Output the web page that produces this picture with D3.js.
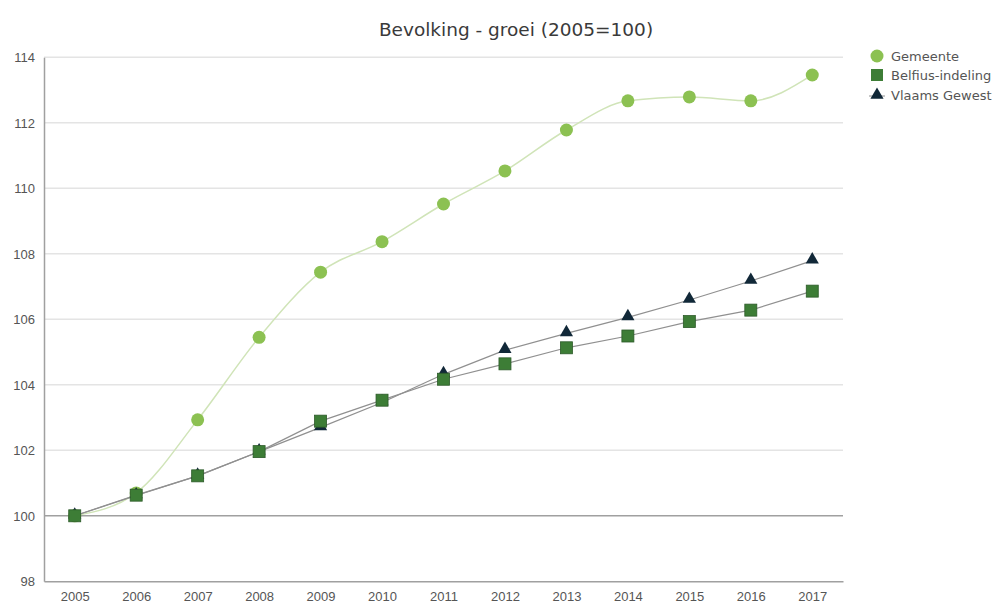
<!DOCTYPE html>
<html>
<head>
<meta charset="utf-8">
<script src="https://cdn.jsdelivr.net/npm/d3@7"></script>
<style>
  body { margin: 0; background: #fff; }
  svg { display: block; font-family: "DejaVu Sans", Verdana, sans-serif; }
</style>
</head>
<body>
<svg id="chart" width="995" height="604"></svg>
<script>
const years = ["2005","2006","2007","2008","2009","2010","2011","2012","2013","2014","2015","2016","2017"];
const gemeente = [100, 100.70, 102.93, 105.45, 107.44, 108.37, 109.52, 110.53, 111.78, 112.67, 112.79, 112.67, 113.46];
const belfius = [100, 100.63, 101.22, 101.96, 102.89, 103.53, 104.17, 104.64, 105.13, 105.49, 105.93, 106.28, 106.86];
const vlaams = [100, 100.62, 101.22, 101.96, 102.70, 103.46, 104.32, 105.06, 105.57, 106.06, 106.59, 107.17, 107.79];
const yTicks = [98, 100, 102, 104, 106, 108, 110, 112, 114];
const seriesNames = ["Gemeente", "Belfius-indeling", "Vlaams Gewest"];
const title = "Bevolking - groei (2005=100)";

const svg = d3.select("#chart");
const mLeft = 44, mRight = 843, mTop = 57.3, mBottom = 581.3;

const x = d3.scalePoint().domain(years).range([mLeft, mRight]).padding(0.5);
const y = d3.scaleLinear().domain([98, 114]).range([mBottom, mTop]);

// gridlines
svg.append("g").selectAll("line").data(yTicks.filter(t => t !== 98)).join("line")
  .attr("x1", mLeft).attr("x2", mRight)
  .attr("y1", d => y(d)).attr("y2", d => y(d))
  .attr("stroke", d => d === 100 ? "#a0a0a0" : "#e4e4e4")
  .attr("stroke-width", 1.5);

// axes
const yAxis = svg.append("g").attr("transform", `translate(${mLeft},0)`)
  .call(d3.axisLeft(y).tickValues(yTicks).tickSize(0).tickPadding(9).tickFormat(d3.format("d")));
yAxis.select(".domain").attr("stroke", "#a0a0a0").attr("stroke-width", 1.5);
yAxis.selectAll("text").attr("fill", "#555").style("font-size", "13px").attr("dy", "0.35em");

const xAxis = svg.append("g").attr("transform", `translate(0,${mBottom})`)
  .call(d3.axisBottom(x).tickSize(0).tickPadding(10));
xAxis.select(".domain").attr("stroke", "#a0a0a0").attr("stroke-width", 1.5);
xAxis.selectAll("text").attr("fill", "#555").style("font-size", "13px");

// title
svg.append("text").attr("x", 516).attr("y", 36).attr("text-anchor", "middle")
  .attr("fill", "#3a3a3a").style("font-size", "18.5px").text(title);

const line = d3.line().x((d, i) => x(years[i])).y(d => y(d)).curve(d3.curveMonotoneX);
const straight = d3.line().x((d, i) => x(years[i])).y(d => y(d));

const cGem = "#8cc152", cGemLine = "#d0e4b8";
const cBel = "#3d7d36", cBelStroke = "#2c5a29";
const cVla = "#112838";

// Gemeente
svg.append("path").datum(gemeente).attr("d", line).attr("fill", "none")
  .attr("stroke", cGemLine).attr("stroke-width", 1.5);
svg.append("g").selectAll("circle").data(gemeente).join("circle")
  .attr("cx", (d, i) => x(years[i])).attr("cy", d => y(d)).attr("r", 6.5)
  .attr("fill", cGem);

// lines
svg.append("path").datum(vlaams).attr("d", straight)
  .attr("fill", "none").attr("stroke", "#909090").attr("stroke-width", 1.2);
svg.append("path").datum(belfius).attr("d", straight)
  .attr("fill", "none").attr("stroke", "#909090").attr("stroke-width", 1.2);

const tri = d3.symbol().type(d3.symbolTriangle).size(75);
svg.append("g").selectAll("path").data(vlaams).join("path")
  .attr("d", tri)
  .attr("transform", (d, i) => `translate(${x(years[i])},${y(d) - 1})`)
  .attr("fill", cVla);

svg.append("g").selectAll("rect").data(belfius).join("rect")
  .attr("x", (d, i) => x(years[i]) - 6).attr("y", d => y(d) - 6)
  .attr("width", 12).attr("height", 12)
  .attr("fill", cBel).attr("stroke", cBelStroke).attr("stroke-width", 0.8);

// legend
const lg = svg.append("g");
const ly = [56, 75, 95];
lg.append("circle").attr("cx", 877).attr("cy", ly[0]).attr("r", 6.5).attr("fill", cGem);
lg.append("rect").attr("x", 871).attr("y", ly[1] - 6).attr("width", 12).attr("height", 12).attr("fill", cBel);
lg.append("line").attr("x1", 869).attr("x2", 885).attr("y1", ly[2] + 1).attr("y2", ly[2] + 1).attr("stroke", "#909090");
lg.append("path").attr("d", tri).attr("transform", `translate(877,${ly[2]})`).attr("fill", cVla);
lg.selectAll("text").data(seriesNames).join("text")
  .attr("x", 891).attr("y", (d, i) => ly[i]).attr("dy", "0.35em")
  .attr("fill", "#555").style("font-size", "13px").text(d => d);
</script>
</body>
</html>
